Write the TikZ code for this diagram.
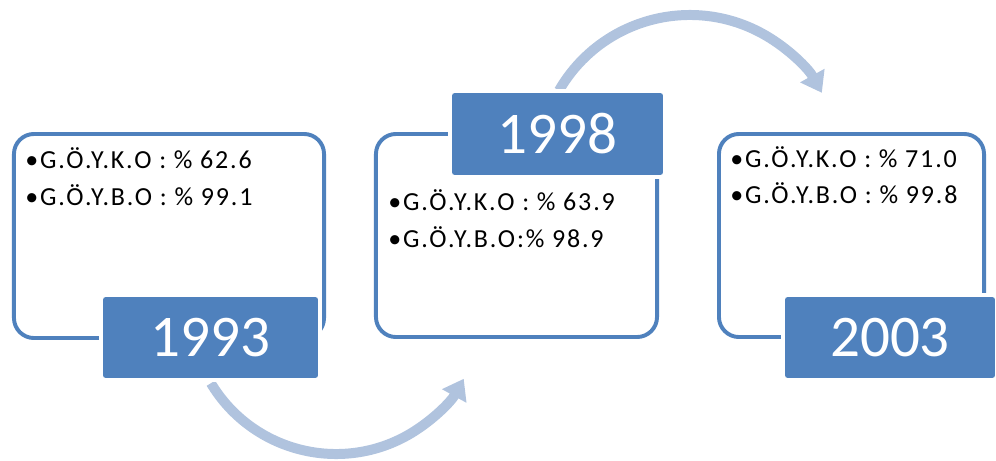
\documentclass[tikz,border=0pt]{standalone}
\usepackage{fontspec}
\setmainfont{Carlito}
\newfontfamily\ratefont[LetterSpace=7]{Carlito}
\usetikzlibrary{arrows.meta}
\definecolor{tagblue}{RGB}{79,129,189}
\definecolor{arcblue}{RGB}{176,195,222}

\begin{document}
\begin{tikzpicture}
  [x=0.025cm,y=-0.025cm,
   infobox/.style={draw=tagblue, line width=2.8pt, rounded corners=0.5cm, inner sep=0pt},
   yearbox/.style={fill=tagblue, draw=white, line width=2.8pt, rounded corners=3pt, text=white, font=\fontsize{42}{50}\selectfont},
   infotext/.style={anchor=base west, inner sep=0pt, font=\ratefont\fontsize{18.5}{22}\selectfont},
   turn/.style={arcblue, line width=7.1pt, -{Triangle[width=19pt,length=14pt]}}]

  \useasboundingbox (0,0) rectangle (996,461);

  % curved arrows between the years
  \coordinate (a1) at (210.9,383.2);
  \coordinate (a2) at (559,90.5);
  \draw[turn] (a1) arc[start angle=149, end angle=29, radius=146];
  \draw[turn] (a2) arc[start angle=210, end angle=331, radius=151];

  % frames
  \node[infobox, minimum width=7.75cm, minimum height=5.1cm] (b1) at (169,236) {};
  \node[infobox, minimum width=7.025cm, minimum height=5.075cm] (b2) at (516.5,235.5) {};
  \node[infobox, minimum width=6.625cm, minimum height=5.075cm] (b3) at (851.5,235.5) {};

  % year tags
  \node[yearbox, minimum width=5.475cm, minimum height=2.125cm] (y1) at (210.5,337.5) {1993};
  \node[yearbox, minimum width=5.375cm, minimum height=2.15cm] (y2) at (557.5,134) {1998};
  \node[yearbox, minimum width=5.35cm, minimum height=2.125cm] (y3) at (890,337.5) {2003};

  % rates
  \node[infotext] (t1a) at (25,168) {•G.Ö.Y.K.O : \% 62.6};
  \node[infotext] (t1b) at (25,205) {•G.Ö.Y.B.O : \% 99.1};
  \node[infotext] (t2a) at (388,210) {•G.Ö.Y.K.O : \% 63.9};
  \node[infotext] (t2b) at (388,247) {•G.Ö.Y.B.O:\% 98.9};
  \node[infotext] (t3a) at (730,167) {•G.Ö.Y.K.O : \% 71.0};
  \node[infotext] (t3b) at (730,203) {•G.Ö.Y.B.O : \% 99.8};
\end{tikzpicture}
\end{document}
